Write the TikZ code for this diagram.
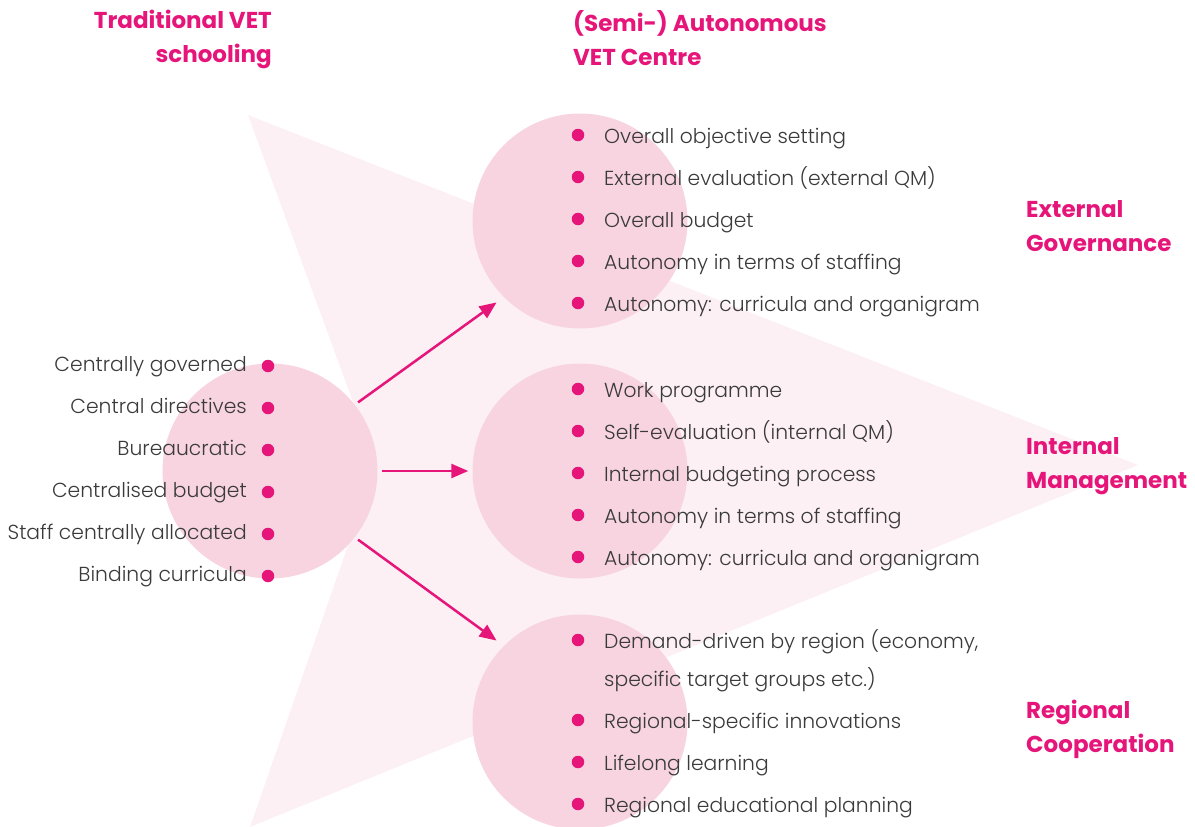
\documentclass[tikz,border=0pt]{standalone}
\usepackage{fontspec}
\setmainfont{Poppins}[UprightFont=* Light, BoldFont=* Bold]
\usetikzlibrary{arrows.meta}
\definecolor{mag}{HTML}{E6157A}
\definecolor{circ}{HTML}{F7D4DF}
\definecolor{tri}{HTML}{FCF0F4}
\definecolor{txt}{HTML}{3A3A3A}
\tikzset{
  bubble/.style={circle, fill=circ, minimum size=215pt, inner sep=0pt},
  dot/.style={circle, fill=mag, minimum size=12.5pt, inner sep=0pt},
  item/.style={text=txt, font=\fontsize{20.3}{25}\selectfont, inner sep=0pt},
  head/.style={text=mag, font=\fontsize{23}{34}\selectfont\bfseries, inner sep=0pt, align=left},
  arr/.style={draw=mag, line width=2.5pt, -{Triangle[length=17pt,width=14pt]}},
}
\begin{document}
\begin{tikzpicture}[x=1pt,y=-1pt]
\useasboundingbox (0,0) rectangle (1195,827);
\fill[tri] (248,115) -- (1138,465) -- (250,827) -- (376,465) -- cycle;
\node[bubble] (L) at (270,471) {};
\node[bubble] (M1) at (580,221) {};
\node[bubble] (M2) at (580,471) {};
\node[bubble] (M3) at (580,722) {};
% titles
\node[head, anchor=north east, align=right] (t1) at (272,10) {Traditional VET\\schooling};
\node[head, anchor=north west] (t2) at (573,10) {(Semi-) Autonomous\\VET Centre};
\node[head, anchor=west] (g1) at (1026,226) {External\\Governance};
\node[head, anchor=west] (g2) at (1026,466) {Internal\\Management};
\node[head, anchor=west] (g3) at (1026,729) {Regional\\Cooperation};
% left list
\foreach \t [count=\i] in {Centrally governed, Central directives, Bureaucratic, Centralised budget, Staff centrally allocated, Binding curricula}{
  \node[dot] (ld\i) at (268,{366+42*(\i-1)}) {};
  \node[item, anchor=base east] (lt\i) at (247,{371+42*(\i-1)}) {\t};
}
% group 1
\foreach \t [count=\i] in {Overall objective setting, External evaluation (external QM), Overall budget, Autonomy in terms of staffing, Autonomy: curricula and organigram}{
  \node[dot] (ad\i) at (578,{135+42*(\i-1)}) {};
  \node[item, anchor=base west] (at\i) at (604,{143+42*(\i-1)}) {\t};
}
% group 2
\foreach \t [count=\i] in {Work programme, Self-evaluation (internal QM), Internal budgeting process, Autonomy in terms of staffing, Autonomy: curricula and organigram}{
  \node[dot] (bd\i) at (578,{389+42*(\i-1)}) {};
  \node[item, anchor=base west] (bt\i) at (604,{397+42*(\i-1)}) {\t};
}
% group 3
\node[dot] (cd1) at (578,640) {};
\node[item, anchor=base west] (ct1) at (604,648) {Demand-driven by region (economy,};
\node[item, anchor=base west] (ct1b) at (604,686) {specific target groups etc.)};
\foreach \t [count=\i from 2] in {Regional-specific innovations, Lifelong learning, Regional educational planning}{
  \node[dot] (cd\i) at (578,{720+42*(\i-2)}) {};
  \node[item, anchor=base west] (ct\i) at (604,{728+42*(\i-2)}) {\t};
}
% arrows
\draw[arr, shorten <=4pt, shorten >=9pt] (L.38) -- (M1.225);
\draw[arr, shorten <=4pt, shorten >=4pt] (L.east) -- (M2.west);
\draw[arr, shorten <=4pt, shorten >=9pt] (L.-38) -- (M3.135);
\end{tikzpicture}
\end{document}
